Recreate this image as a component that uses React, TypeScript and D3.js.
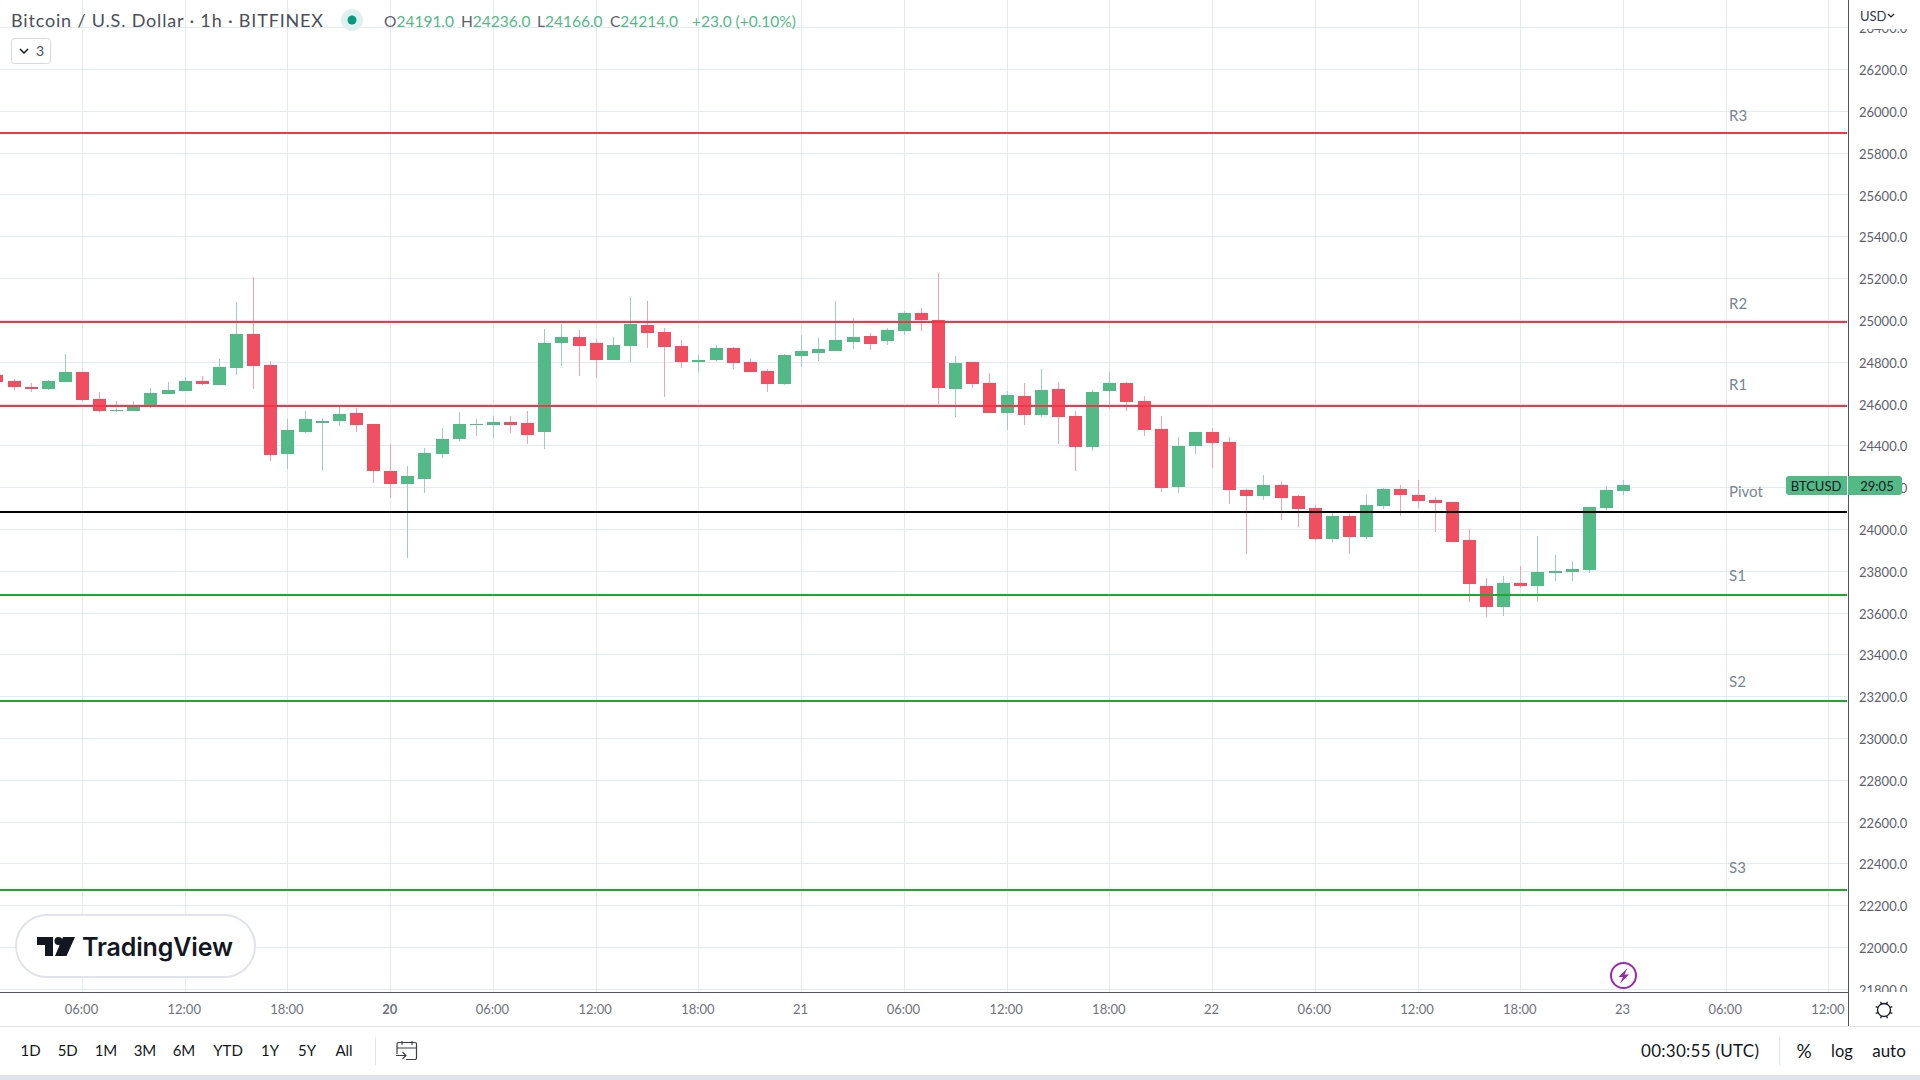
import React from "react";
import * as d3 from "d3";

const firstHour = 1;
const opens = [24738,24710,24681,24671,24705,24753,24624,24566,24566,24585,24648,24662,24710,24691,24772,24935,24786,24360,24466,24509,24518,24557,24504,24279,24217,24241,24360,24432,24499,24499,24514,24509,24466,24892,24920,24892,24810,24877,24978,24944,24877,24801,24810,24868,24801,24758,24695,24829,24844,24853,24896,24925,24901,24949,25035,25002,24671,24801,24700,24557,24638,24547,24671,24542,24394,24662,24700,24614,24480,24203,24399,24466,24418,24188,24160,24212,24159,24102,23953,24064,23963,24111,24193,24164,24140,24131,23949,23728,23628,23743,23728,23791,23796,23805,24102,24183];
const highs = [24745,24719,24700,24715,24839,24753,24657,24614,24614,24676,24705,24729,24734,24815,25088,25207,24805,24528,24566,24533,24590,24581,24504,24408,24303,24389,24485,24561,24528,24542,24542,24566,24959,24982,24954,24911,24920,25112,25093,24963,24906,24834,24882,24872,24815,24767,24839,24930,24916,25093,25011,24939,24963,25045,25059,25227,24829,24801,24748,24662,24700,24767,24705,24566,24667,24753,24705,24638,24542,24442,24466,24485,24442,24193,24260,24226,24164,24116,24078,24073,24164,24198,24212,24236,24155,24131,24001,23767,23776,23824,23968,23877,23848,24107,24207,24236];
const lows = [24700,24667,24657,24667,24705,24614,24561,24561,24566,24581,24648,24662,24691,24691,24738,24671,24327,24289,24461,24279,24494,24466,24222,24150,23863,24174,24341,24423,24447,24437,24461,24408,24384,24782,24734,24724,24810,24801,24868,24633,24772,24753,24805,24767,24753,24657,24691,24777,24805,24853,24863,24858,24882,24930,24949,24600,24538,24676,24557,24475,24499,24538,24408,24279,24375,24576,24566,24447,24179,24174,24360,24293,24121,23882,24140,24045,24011,23949,23939,23882,23953,24097,24064,24102,23987,23939,23652,23580,23585,23719,23657,23752,23752,23791,24092,24166];
const closes = [24705,24681,24671,24710,24753,24619,24566,24571,24595,24652,24667,24710,24695,24777,24935,24782,24356,24475,24528,24518,24552,24499,24279,24217,24255,24365,24432,24504,24504,24514,24499,24451,24892,24920,24877,24810,24882,24982,24939,24872,24801,24810,24868,24796,24753,24695,24834,24853,24863,24906,24920,24887,24954,25035,25002,24676,24796,24695,24557,24643,24547,24667,24538,24394,24657,24700,24609,24475,24198,24399,24466,24413,24188,24160,24212,24150,24097,23953,24064,23963,24116,24193,24164,24135,24126,23939,23738,23628,23743,23728,23796,23800,23810,24107,24188,24214];

const priceTicks = [26400,26200,26000,25800,25600,25400,25200,25000,24800,24600,24400,24200,24000,23800,23600,23400,23200,23000,22800,22600,22400,22200,22000,21800];
const timeTicks = [
  { h: 6, label: "06:00" },{ h: 12, label: "12:00" },{ h: 18, label: "18:00" },{ h: 24, label: "20", bold: true },
  { h: 30, label: "06:00" },{ h: 36, label: "12:00" },{ h: 42, label: "18:00" },{ h: 48, label: "21" },
  { h: 54, label: "06:00" },{ h: 60, label: "12:00" },{ h: 66, label: "18:00" },{ h: 72, label: "22" },
  { h: 78, label: "06:00" },{ h: 84, label: "12:00" },{ h: 90, label: "18:00" },{ h: 96, label: "23" },
  { h: 102, label: "06:00" },{ h: 108, label: "12:00" },
];
const pivots = [
  { name: "R3", value: 25896, color: "#f23645" },
  { name: "R2", value: 24992, color: "#f23645" },
  { name: "R1", value: 24591, color: "#f23645" },
  { name: "Pivot", value: 24083, color: "#000000" },
  { name: "S1", value: 23686, color: "#1ea82d" },
  { name: "S2", value: 23178, color: "#1ea82d" },
  { name: "S3", value: 22274, color: "#1ea82d" },
];
const pivotLabelGap = [17, 18.5, 21, 20.5, 19, 19, 22];
const ranges = ["1D","5D","1M","3M","6M","YTD","1Y","5Y","All"];
const rangeX = [30.6,67.7,106,145,184,228,270,307,344];

const UP = "#53b987", DOWN = "#ef4f60", UPW = "#a0cbcc", DOWNW = "#f7a1ae";
const FONT = "Lato, 'Open Sans', sans-serif";
const plotR = 1848, plotB = 992;

const x = d3.scaleLinear().domain([6, 96]).range([82.5, 1623.5]);
const y = d3.scaleLinear().domain([21800, 26200]).range([989.2, 69.6]);
const snap = (v: number) => Math.floor(v) + 0.5;

export default function App() {
  return (
    <svg width={1920} height={1080} style={{ position: "fixed", left: 0, top: 0, display: "block", background: "#fff" }} fontFamily={FONT}>
      <defs>
        <clipPath id="plot"><rect x={0} y={0} width={plotR} height={plotB} /></clipPath>
        <clipPath id="axis"><rect x={plotR} y={29} width={72} height={plotB - 29} /></clipPath>
      </defs>
      <g clipPath="url(#plot)">
        {priceTicks.map(p => <line key={p} x1={0} x2={plotR} y1={snap(y(p))} y2={snap(y(p))} stroke="#e1ebf1" />)}
        {timeTicks.map(t => <line key={t.h} x1={snap(x(t.h))} x2={snap(x(t.h))} y1={0} y2={plotB} stroke="#e1ebf1" />)}
        {opens.map((o, i) => {
          const h = firstHour + i;
          const c = closes[i];
          const up = c >= o;
          const px = Math.floor(x(h));
          const top = Math.round(y(Math.max(o, c)));
          const bot = Math.round(y(Math.min(o, c)));
          const wt = Math.round(y(highs[i]));
          const wb = Math.round(y(lows[i]));
          return (
            <g key={h}>
              <rect x={px} y={wt} width={1} height={Math.max(wb - wt, 1)} fill={up ? UPW : DOWNW} />
              <rect x={px - 6} y={top} width={13} height={Math.max(bot - top, 1)} fill={up ? UP : DOWN} />
            </g>
          );
        })}
        {pivots.map(p => <line key={p.name} x1={0} x2={1847} y1={Math.round(y(p.value))} y2={Math.round(y(p.value))} stroke={p.color} strokeWidth={2} />)}
        {pivots.map((p, i) => <text key={p.name} x={1729} y={y(p.value) - pivotLabelGap[i]} dy="0.35em" fontSize={15} fill="#758696">{p.name}</text>)}
      </g>

      <text x={11} y={27} fontSize={18} fill="#4d5058" textLength={312} lengthAdjust="spacing">Bitcoin / U.S. Dollar · 1h · BITFINEX</text>
      <circle cx={352} cy={20} r={11} fill="#dff1ee" />
      <circle cx={352} cy={20} r={4.5} fill="#089981" />
      <text y={27} fontSize={15.5} fill="#53b987">
        <tspan x={384} fill="#5d606b">O</tspan><tspan>24191.0</tspan>
        <tspan x={461} fill="#5d606b">H</tspan><tspan>24236.0</tspan>
        <tspan x={537} fill="#5d606b">L</tspan><tspan>24166.0</tspan>
        <tspan x={610} fill="#5d606b">C</tspan><tspan>24214.0</tspan>
        <tspan x={692}>+23.0 (+0.10%)</tspan>
      </text>
      <rect x={11.5} y={38.5} width={39} height={25} rx={3} fill="#fff" stroke="#d6d8e0" />
      <path d="M20 49 l4 4 l4 -4" fill="none" stroke="#131722" strokeWidth={1.5} />
      <text x={36} y={56} fontSize={14} fill="#4d5058">3</text>

      <rect x={16} y={915} width={239} height={62} rx={31} fill="#fff" stroke="#e0e3eb" strokeWidth={2} />
      <path d="M37 937 H53 V956 H45 V945 H37 Z M63 937 H75 L66.5 956 H55 Z" fill="#131722" />
      <circle cx={58.5} cy={941} r={4} fill="#131722" />
      <text x={82} y={956} fontSize={25} fontWeight={600} fontFamily="Inter, sans-serif" fill="#131722" textLength={151} lengthAdjust="spacing">TradingView</text>

      <circle cx={1623.5} cy={975.5} r={12.5} fill="#fff" stroke="#9c27b0" strokeWidth={2} />
      <path d="M1627.5 968 L1618.5 977 H1623 L1620 983.5 L1629 974.5 H1624.5 Z" fill="#9c27b0" />

      <rect x={0} y={plotB} width={1920} height={88} fill="#fff" />
      <line x1={plotR + 0.5} x2={plotR + 0.5} y1={0} y2={1026} stroke="#50535e" />
      <line x1={0} x2={plotR} y1={plotB + 0.5} y2={plotB + 0.5} stroke="#50535e" />

      <g clipPath="url(#axis)">
        {priceTicks.map(p => <text key={p} x={1859} y={y(p) + 1} dy="0.36em" fontSize={13} fill="#5d606b">{d3.format(".1f")(p)}</text>)}
      </g>
      <text x={1860} y={21} fontSize={13} fill="#2f3a52">USD</text>
      <path d="M1888 14 l3 3 l3 -3" fill="none" stroke="#131722" strokeWidth={1.2} />

      <rect x={1786} y={476} width={116} height={19} rx={3} fill={UP} />
      <rect x={1847} y={476} width={1} height={19} fill="#fff" />
      <text x={1816} y={486.5} dy="0.36em" textAnchor="middle" fontSize={13} fill="#131722">BTCUSD</text>
      <text x={1877} y={486.5} dy="0.36em" textAnchor="middle" fontSize={13} fill="#131722">29:05</text>

      {timeTicks.map(t => <text key={t.h} x={x(t.h) - 1} y={1009} dy="0.36em" textAnchor="middle" fontSize={13} fontWeight={t.bold ? 700 : 400} fill="#6f727c">{t.label}</text>)}
      <g fill="none" stroke="#131722" strokeWidth={1.3}>
        <circle cx={1884} cy={1010} r={6.5} />
        {d3.range(8).map(i => {
          const a = (i * Math.PI) / 4 + Math.PI / 8;
          return <line key={i} x1={1884 + 6.5 * Math.cos(a)} y1={1010 + 6.5 * Math.sin(a)} x2={1884 + 9 * Math.cos(a)} y2={1010 + 9 * Math.sin(a)} />;
        })}
      </g>

      <line x1={0} x2={1920} y1={1026.5} y2={1026.5} stroke="#e0e3eb" />
      {ranges.map((r, i) => <text key={r} x={rangeX[i]} y={1051} dy="0.36em" textAnchor="middle" fontSize={15} fill="#131722">{r}</text>)}
      <line x1={375.5} x2={375.5} y1={1037} y2={1065} stroke="#e0e3eb" />
      <g fill="none" stroke="#3c3f48" strokeWidth={1.2}>
        <path d="M397 1054 V1044 a1.5 1.5 0 0 1 1.5 -1.5 H415 a1.5 1.5 0 0 1 1.5 1.5 V1058 a1.5 1.5 0 0 1 -1.5 1.5 H406" />
        <path d="M397 1048 H416.5 M402 1041 V1045 M412 1041 V1045" />
        <path d="M396 1055.5 H406 M402.5 1052 L406 1055.5 L402.5 1059" />
      </g>
      <text x={1641} y={1051} dy="0.36em" fontSize={17} fill="#131722" textLength={118} lengthAdjust="spacing">00:30:55 (UTC)</text>
      <line x1={1779.5} x2={1779.5} y1={1037} y2={1065} stroke="#e0e3eb" />
      <text x={1804} y={1051} dy="0.36em" textAnchor="middle" fontSize={19} fill="#131722">%</text>
      <text x={1842} y={1051} dy="0.36em" textAnchor="middle" fontSize={16.5} fill="#131722">log</text>
      <text x={1889} y={1051} dy="0.36em" textAnchor="middle" fontSize={17} fill="#131722">auto</text>
      <rect x={0} y={1075} width={1920} height={5} fill="#e0e3eb" />
    </svg>
  );
}
